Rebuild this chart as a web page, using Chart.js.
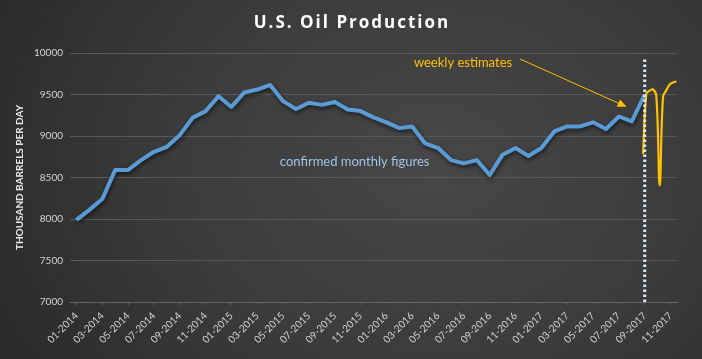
<!DOCTYPE html>
<html>
<head>
<meta charset="utf-8">
<script src="https://cdn.jsdelivr.net/npm/chart.js@4.4.1/dist/chart.umd.min.js"></script>
<style>
  html, body { margin: 0; padding: 0; }
  #wrap {
    width: 702px; height: 359px; position: relative;
    background: radial-gradient(ellipse 85% 130% at 62% 45%, #474747 0%, #3b3b3b 45%, #222222 100%);
  }
</style>
</head>
<body>
<div id="wrap"><canvas id="oilChart"></canvas></div>
<script>
// categories (one per month, labelled every second month)
const months = [
  '01-2014','02-2014','03-2014','04-2014','05-2014','06-2014','07-2014','08-2014','09-2014','10-2014','11-2014','12-2014',
  '01-2015','02-2015','03-2015','04-2015','05-2015','06-2015','07-2015','08-2015','09-2015','10-2015','11-2015','12-2015',
  '01-2016','02-2016','03-2016','04-2016','05-2016','06-2016','07-2016','08-2016','09-2016','10-2016','11-2016','12-2016',
  '01-2017','02-2017','03-2017','04-2017','05-2017','06-2017','07-2017','08-2017','09-2017','10-2017','11-2017'
];

// confirmed monthly figures, thousand barrels per day (01-2014 .. 09-2017)
const monthly = [
  7990, 8110, 8240, 8590, 8590, 8710, 8810, 8870, 9010, 9220, 9300, 9480,
  9350, 9525, 9560, 9615, 9420, 9325, 9400, 9375, 9410, 9320, 9300, 9225,
  9165, 9095, 9115, 8910, 8855, 8710, 8670, 8710, 8530, 8775, 8855, 8760,
  8855, 9055, 9115, 9115, 9165, 9085, 9235, 9175, 9500
];

// weekly estimates: position in months (0 = 01-2014) and value
const weeklyPos = [43.87, 44.13, 44.39, 44.64, 44.90, 45.16, 45.42, 45.68, 45.93, 46.19, 46.45];
const weeklyVal = [8781, 9510, 9547, 9561, 9480, 8406, 9475, 9553, 9620, 9645, 9658];

// dotted divider between monthly and weekly data
const dividerPos = 44;
const dividerRange = [7000, 9940];

const yTicks = [7000, 7500, 8000, 8500, 9000, 9500, 10000];

// annotation anchors, in data units [month position, value]
const weeklyNote = [29.93, 9883];
const arrowFrom = [34.34, 9928];
const arrowTo = [42.6, 9351];
const monthlyNote = [21.54, 8687];

const chartTitle = 'U.S. Oil Production';
const gold = '#ffc000';
const blue = '#5b9bd5';

const lineShadow = {
  id: 'lineShadow',
  beforeDatasetDraw(chart, args) {
    if (chart.data.datasets[args.index].shadow) {
      const ctx = chart.ctx;
      ctx.save();
      ctx.shadowColor = 'rgba(0,0,0,0.6)';
      ctx.shadowBlur = 4;
      ctx.shadowOffsetX = 1;
      ctx.shadowOffsetY = 2;
    }
  },
  afterDatasetDraw(chart, args) {
    if (chart.data.datasets[args.index].shadow) chart.ctx.restore();
  }
};

// title with letter spacing, centred on the whole canvas
const spacedTitle = {
  id: 'spacedTitle',
  afterDraw(chart) {
    const ctx = chart.ctx;
    ctx.save();
    ctx.font = 'bold 17px "Open Sans"';
    ctx.letterSpacing = '2px';
    ctx.fillStyle = '#ffffff';
    ctx.textAlign = 'center';
    ctx.textBaseline = 'middle';
    ctx.fillText(chartTitle, chart.width / 2 + 1, 23);
    ctx.restore();
  }
};

const notes = {
  id: 'notes',
  afterDatasetsDraw(chart) {
    const ctx = chart.ctx;
    const xs = chart.scales.x2, ys = chart.scales.y;
    const px = p => [xs.getPixelForValue(p[0]), ys.getPixelForValue(p[1])];
    ctx.save();
    ctx.textAlign = 'center';
    ctx.textBaseline = 'middle';

    ctx.font = '13px Lato';
    ctx.fillStyle = gold;
    let p = px(weeklyNote);
    ctx.fillText('weekly estimates', p[0], p[1]);

    ctx.fillStyle = '#9dc3e6';
    p = px(monthlyNote);
    ctx.fillText('confirmed monthly figures', p[0], p[1]);

    // arrow
    const a = px(arrowFrom), b = px(arrowTo);
    const ang = Math.atan2(b[1] - a[1], b[0] - a[0]);
    ctx.strokeStyle = gold;
    ctx.lineWidth = 1;
    ctx.beginPath();
    ctx.moveTo(a[0], a[1]);
    ctx.lineTo(b[0] - 6 * Math.cos(ang), b[1] - 6 * Math.sin(ang));
    ctx.stroke();
    ctx.fillStyle = gold;
    ctx.beginPath();
    ctx.moveTo(b[0], b[1]);
    ctx.lineTo(b[0] - 9 * Math.cos(ang) + 4 * Math.sin(ang), b[1] - 9 * Math.sin(ang) - 4 * Math.cos(ang));
    ctx.lineTo(b[0] - 9 * Math.cos(ang) - 4 * Math.sin(ang), b[1] - 9 * Math.sin(ang) + 4 * Math.cos(ang));
    ctx.closePath();
    ctx.fill();
    ctx.restore();
  }
};

const ctx = document.getElementById('oilChart').getContext('2d');
new Chart(ctx, {
  type: 'line',
  data: {
    labels: months,
    datasets: [
      {
        label: 'divider',
        xAxisID: 'x2',
        data: dividerRange.map(v => ({ x: dividerPos, y: v })),
        borderColor: '#dfe7f1',
        borderWidth: 3,
        borderDash: [2.5, 2.5],
        pointRadius: 0
      },
      {
        label: 'weekly estimates',
        xAxisID: 'x2',
        data: weeklyPos.map((x, i) => ({ x: x, y: weeklyVal[i] })),
        borderColor: gold,
        borderWidth: 2.2,
        tension: 0.4,
        pointRadius: 0
      },
      {
        label: 'confirmed monthly figures',
        xAxisID: 'x',
        data: monthly,
        borderColor: blue,
        borderWidth: 4,
        borderJoinStyle: 'round',
        pointRadius: 0,
        tension: 0,
        shadow: true
      }
    ]
  },
  options: {
    responsive: true,
    maintainAspectRatio: false,
    animation: false,
    layout: { padding: { left: 0, right: 25, top: 53, bottom: 0 } },
    plugins: {
      legend: { display: false },
      tooltip: { enabled: false },
      title: { display: false }
    },
    scales: {
      x: {
        type: 'category',
        offset: true,
        grid: {
          offset: false,
          drawOnChartArea: false,
          tickLength: 3,
          color: c => (c.index % 2 === 0 ? '#5e5e5e' : 'rgba(0,0,0,0)')
        },
        border: { color: '#666666' },
        ticks: {
          autoSkip: false,
          maxRotation: 45,
          minRotation: 45,
          padding: 5,
          color: '#d4d4d4',
          font: { family: 'Lato', size: 10 },
          callback: function (value, index) {
            return index % 2 === 0 ? this.getLabelForValue(value) : '';
          }
        },
        afterFit: s => { s.height = 57; }
      },
      x2: {
        type: 'linear',
        display: false,
        min: -0.5,
        max: months.length - 0.5
      },
      y: {
        min: yTicks[0],
        max: yTicks[yTicks.length - 1],
        afterBuildTicks: s => { s.ticks = yTicks.map(v => ({ value: v })); },
        grid: { color: '#595959', drawTicks: false },
        border: { display: false },
        ticks: {
          padding: 7,
          color: '#d4d4d4',
          font: { family: 'Lato', size: 10 },
          callback: v => String(v)
        },
        title: {
          display: true,
          text: 'THOUSAND BARRELS PER DAY',
          color: '#e6e6e6',
          font: { family: 'Lato', size: 10, weight: 'bold', lineHeight: 1.2 },
          padding: { top: 14, bottom: 0 }
        },
        afterFit: s => { s.width = 70; }
      }
    }
  },
  plugins: [lineShadow, spacedTitle, notes]
});
</script>
</body>
</html>
